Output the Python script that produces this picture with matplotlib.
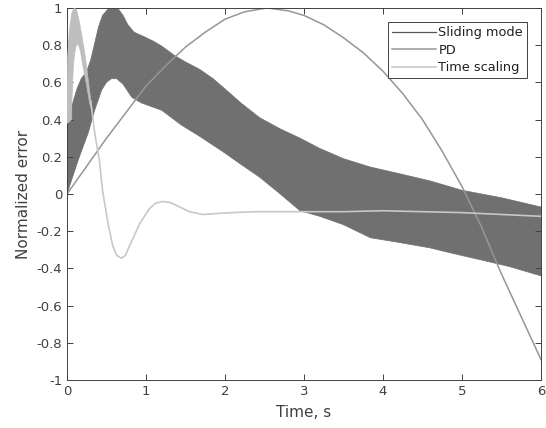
import numpy as np
import matplotlib
matplotlib.use("Agg")
import matplotlib.pyplot as plt
from matplotlib.path import Path
from matplotlib.patches import PathPatch
from matplotlib.ticker import FuncFormatter

plt.rcParams["axes.unicode_minus"] = False

# =========================
# Data
# =========================
# Sliding mode: chattering band, upper / lower envelope
t_sm_up = [0.0, 0.04, 0.08, 0.13, 0.18, 0.25, 0.30, 0.35, 0.40, 0.45, 0.52,
           0.58, 0.65, 0.71, 0.77, 0.85, 0.98, 1.1, 1.2, 1.36, 1.5, 1.68,
           1.85, 2.0, 2.2, 2.44, 2.7, 2.95, 3.2, 3.5, 3.84, 4.2, 4.6, 5.0,
           5.5, 6.0]
sm_upper = [0.37, 0.44, 0.50, 0.57, 0.62, 0.66, 0.72, 0.81, 0.90, 0.96, 0.995,
            1.0, 0.995, 0.96, 0.91, 0.87, 0.845, 0.82, 0.795, 0.745, 0.71, 0.67,
            0.62, 0.565, 0.49, 0.41, 0.35, 0.30, 0.245, 0.19, 0.145, 0.11, 0.07, 0.02,
            -0.02, -0.07]
t_sm_lo = [0.0, 0.07, 0.14, 0.2, 0.27, 0.35, 0.44, 0.5, 0.56, 0.63, 0.71,
           0.82, 0.94, 1.2, 1.45, 1.68, 2.0, 2.2, 2.44, 2.7, 2.95, 3.2, 3.5,
           3.84, 4.2, 4.6, 4.89, 5.3, 5.6, 6.0]
sm_lower = [0.0, 0.09, 0.18, 0.25, 0.33, 0.45, 0.56, 0.60, 0.62, 0.62, 0.59,
            0.52, 0.49, 0.45, 0.37, 0.31, 0.22, 0.16, 0.09, 0.0, -0.09, -0.12,
            -0.165, -0.235, -0.26, -0.29, -0.32, -0.36, -0.39, -0.44]

# PD
t_pd = [0.0, 0.25, 0.5, 0.75, 1.0, 1.25, 1.5, 1.75, 2.0, 2.25, 2.53, 2.8, 3.0,
        3.25, 3.5, 3.75, 4.0, 4.25, 4.5, 4.75, 5.0, 5.25, 5.5, 5.75, 6.0]
pd_vals = [0.0, 0.15, 0.3, 0.44, 0.58, 0.69, 0.79, 0.87, 0.94, 0.98, 1.0, 0.985,
           0.96, 0.91, 0.84, 0.76, 0.66, 0.54, 0.40, 0.23, 0.04, -0.18, -0.43,
           -0.66, -0.89]

# Time scaling: chattering arch at start (outer edge, then inner edge back)
ts_arch_outer_t = [0.0, 0.0, 0.01, 0.03, 0.06, 0.09, 0.12, 0.15, 0.18, 0.22,
                   0.25, 0.29, 0.32]
ts_arch_outer_y = [0.38, 0.62, 0.75, 0.88, 0.97, 1.0, 0.99, 0.94, 0.87, 0.77,
                   0.68, 0.54, 0.45]
ts_arch_inner_t = [0.29, 0.25, 0.22, 0.2, 0.17, 0.14, 0.11, 0.09, 0.08, 0.07,
                   0.06, 0.06]
ts_arch_inner_y = [0.48, 0.58, 0.65, 0.69, 0.77, 0.81, 0.79, 0.73, 0.68, 0.58,
                   0.48, 0.40]

# Time scaling: settled curve
t_ts = [0.3, 0.35, 0.41, 0.45, 0.52, 0.58, 0.63, 0.69, 0.74, 0.79, 0.92, 1.04,
        1.12, 1.21, 1.3, 1.38, 1.55, 1.72, 1.89, 2.1, 2.4, 2.7, 3.0, 3.5, 4.0,
        4.5, 5.0, 5.5, 6.0]
ts_vals = [0.5, 0.33, 0.18, 0.02, -0.16, -0.28, -0.33, -0.345, -0.33, -0.28,
           -0.16, -0.08, -0.05, -0.04, -0.045, -0.06, -0.095, -0.11, -0.105,
           -0.1, -0.095, -0.095, -0.095, -0.095, -0.09, -0.095, -0.1, -0.11, -0.12]

labels = ["Sliding mode", "PD", "Time scaling"]
colors = ["#707070", "#969696", "#c8c8c8"]


def tick_fmt(v, pos):
    if abs(v) < 1e-9:
        return "0"
    return f"{v:g}"


def main():
    fig = plt.figure(figsize=(5.46, 4.28), dpi=100)
    ax = fig.add_axes([0.1227, 0.1121, 0.8681, 0.8692])

    # Sliding mode band (polygon: upper edge forward, lower edge back)
    band = list(zip(t_sm_up, sm_upper)) + list(zip(t_sm_lo, sm_lower))[::-1]
    ax.fill([p[0] for p in band], [p[1] for p in band], color=colors[0],
            lw=0.5, zorder=1)
    h_sm, = ax.plot([], [], color="#555555", lw=0.9)

    # PD
    h_pd, = ax.plot(t_pd, pd_vals, color=colors[1], lw=1.1, zorder=2)

    # Time scaling arch + curve
    arch = (list(zip(ts_arch_outer_t, ts_arch_outer_y))
            + list(zip(ts_arch_inner_t, ts_arch_inner_y)))
    codes = [Path.MOVETO] + [Path.LINETO] * (len(arch) - 1) + [Path.CLOSEPOLY]
    ax.add_patch(PathPatch(Path(arch + [arch[0]], codes), facecolor="#bebebe",
                           edgecolor="#bebebe", lw=0.5, zorder=3))
    h_ts, = ax.plot(t_ts, ts_vals, color=colors[2], lw=1.2, zorder=3)

    ax.set_xlim(0, 6)
    ax.set_ylim(-1, 1)
    ax.set_xticks(np.arange(0, 7, 1))
    ax.set_yticks(np.round(np.arange(-1, 1.01, 0.2), 1))
    ax.yaxis.set_major_formatter(FuncFormatter(tick_fmt))
    ax.tick_params(direction="in", length=4, width=0.7, top=True, right=True,
                   colors="#404040", labelsize=9.5, labelcolor="#404040")
    for sp in ax.spines.values():
        sp.set_color("#404040")
        sp.set_linewidth(0.7)

    ax.set_xlabel("Time, s", fontsize=11, color="#404040", labelpad=5)
    ax.set_ylabel("Normalized error", fontsize=11, color="#404040", labelpad=4)

    leg = ax.legend([h_sm, h_pd, h_ts], labels, loc="upper right", fontsize=9.3,
                    fancybox=False, framealpha=1, edgecolor="#404040",
                    handlelength=3.4, handletextpad=0.2, labelspacing=0.35,
                    borderaxespad=1.1, borderpad=0.3)
    leg.get_frame().set_linewidth(0.7)
    for txt in leg.get_texts():
        txt.set_color("#202020")

    fig.savefig("out.png", dpi=100)
    plt.close(fig)


if __name__ == "__main__":
    main()
